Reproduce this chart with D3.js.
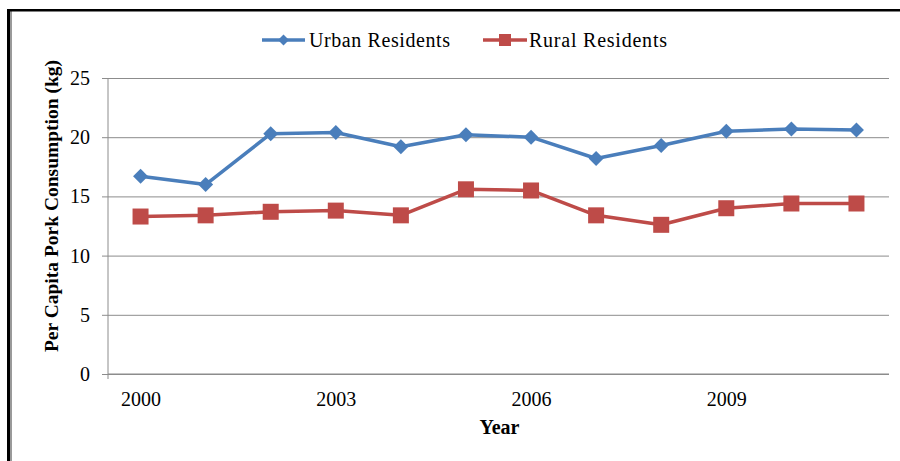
<!DOCTYPE html>
<html>
<head>
<meta charset="utf-8">
<script src="https://cdn.jsdelivr.net/npm/d3@7/dist/d3.min.js"></script>
<style>
  html, body { margin: 0; padding: 0; background: #fff; }
  svg { display: block; }
</style>
</head>
<body>
<svg id="chart" width="900" height="461"></svg>
<script>
// Per capita pork consumption (kg), 2000–2011
const years = [2000, 2001, 2002, 2003, 2004, 2005, 2006, 2007, 2008, 2009, 2010, 2011];
const urban = [16.7, 16.0, 20.3, 20.4, 19.2, 20.2, 20.0, 18.2, 19.3, 20.5, 20.7, 20.6];
const rural = [13.3, 13.4, 13.7, 13.8, 13.4, 15.6, 15.5, 13.4, 12.6, 14.0, 14.4, 14.4];
const yTicks = [0, 5, 10, 15, 20, 25];
const xTickLabels = [2000, 2003, 2006, 2009];
const seriesNames = ["Urban Residents", "Rural Residents"];

const FONT = "'Liberation Serif', 'Times New Roman', serif";
const svg = d3.select("#chart");
const W = 900, H = 461;
const plot = { left: 108, right: 889, top: 78, bottom: 374 };
const blue = "#4a7ebb", red = "#be4b48";

// outer frame: black top/left edges with a grey inner shade on the left
svg.append("rect").attr("x", 10).attr("y", 11).attr("width", 2).attr("height", H - 11).attr("fill", "#9a9a9a");
svg.append("rect").attr("x", 7).attr("y", 9).attr("width", 3).attr("height", H - 9).attr("fill", "#000");
svg.append("rect").attr("x", 7).attr("y", 9).attr("width", W - 7).attr("height", 2.5).attr("fill", "#000");

const x = d3.scalePoint().domain(years).range([plot.left, plot.right]).padding(0.5);
const y = d3.scaleLinear().domain([0, 25]).range([plot.bottom, plot.top]);

// horizontal gridlines + y axis
const yAxis = d3.axisLeft(y).tickValues(yTicks).tickSize(-(plot.right - plot.left)).tickPadding(18).tickFormat(d3.format("d"));
const gy = svg.append("g").attr("transform", `translate(${plot.left},0)`).call(yAxis)
  .attr("font-family", FONT).attr("font-size", 20);
gy.select(".domain").remove();
gy.selectAll(".tick line").attr("stroke", "#8c8c8c").attr("stroke-width", 1).attr("x1", -6);
gy.selectAll(".tick text").attr("fill", "#000");

// axis lines
svg.append("line").attr("x1", plot.left).attr("x2", plot.left).attr("y1", plot.top).attr("y2", plot.bottom + 5)
  .attr("stroke", "#8c8c8c").attr("stroke-width", 1);
svg.append("line").attr("x1", plot.left).attr("x2", plot.right).attr("y1", plot.bottom).attr("y2", plot.bottom)
  .attr("stroke", "#8c8c8c").attr("stroke-width", 1.2);

// x axis labels (every third year)
const xAxis = d3.axisBottom(x).tickValues(xTickLabels).tickSize(0).tickPadding(18).tickFormat(d3.format("d"));
const gx = svg.append("g").attr("transform", `translate(0,${plot.bottom})`).call(xAxis)
  .attr("font-family", FONT).attr("font-size", 20);
gx.select(".domain").remove();
gx.selectAll(".tick text").attr("fill", "#000");

// axis titles
svg.append("text").attr("x", (plot.left + plot.right) / 2 + 1).attr("y", 434).attr("font-family", FONT)
  .attr("text-anchor", "middle").attr("font-size", 20).attr("font-weight", "bold").text("Year");
svg.append("text").attr("transform", `translate(58,${(plot.top + plot.bottom) / 2 - 20}) rotate(-90)`).attr("font-family", FONT)
  .attr("text-anchor", "middle").attr("font-size", 19.5).attr("font-weight", "bold")
  .text("Per Capita Pork Consumption (kg)");

// series lines and markers
const line = d3.line().x((d, i) => x(years[i])).y(d => y(d));
svg.append("path").datum(urban).attr("d", line).attr("fill", "none").attr("stroke", blue).attr("stroke-width", 3.5).attr("stroke-linejoin", "round");
svg.append("path").datum(rural).attr("d", line).attr("fill", "none").attr("stroke", red).attr("stroke-width", 3.5).attr("stroke-linejoin", "round");

svg.append("g").selectAll("path").data(urban).join("path")
  .attr("transform", (d, i) => `translate(${x(years[i])},${y(d)}) rotate(45)`)
  .attr("d", d3.symbol().type(d3.symbolSquare).size(112))
  .attr("fill", blue);
svg.append("g").selectAll("rect").data(rural).join("rect")
  .attr("x", (d, i) => x(years[i]) - 8).attr("y", d => y(d) - 8)
  .attr("width", 16).attr("height", 16).attr("fill", red);

// legend
const legend = svg.append("g").attr("font-family", FONT).attr("font-size", 20);
const ly = 40;
legend.append("line").attr("x1", 262).attr("x2", 305).attr("y1", ly).attr("y2", ly).attr("stroke", blue).attr("stroke-width", 3.5);
legend.append("path").attr("transform", `translate(283.5,${ly}) rotate(45)`).attr("d", d3.symbol().type(d3.symbolSquare).size(60)).attr("fill", blue);
legend.append("text").attr("x", 309).attr("y", ly + 7).attr("textLength", 141).attr("lengthAdjust", "spacing").text(seriesNames[0]);
legend.append("line").attr("x1", 483).attr("x2", 527).attr("y1", ly).attr("y2", ly).attr("stroke", red).attr("stroke-width", 3.5);
legend.append("rect").attr("x", 499).attr("y", ly - 6).attr("width", 12).attr("height", 12).attr("fill", red);
legend.append("text").attr("x", 529).attr("y", ly + 7).attr("textLength", 138).attr("lengthAdjust", "spacing").text(seriesNames[1]);
</script>
</body>
</html>
